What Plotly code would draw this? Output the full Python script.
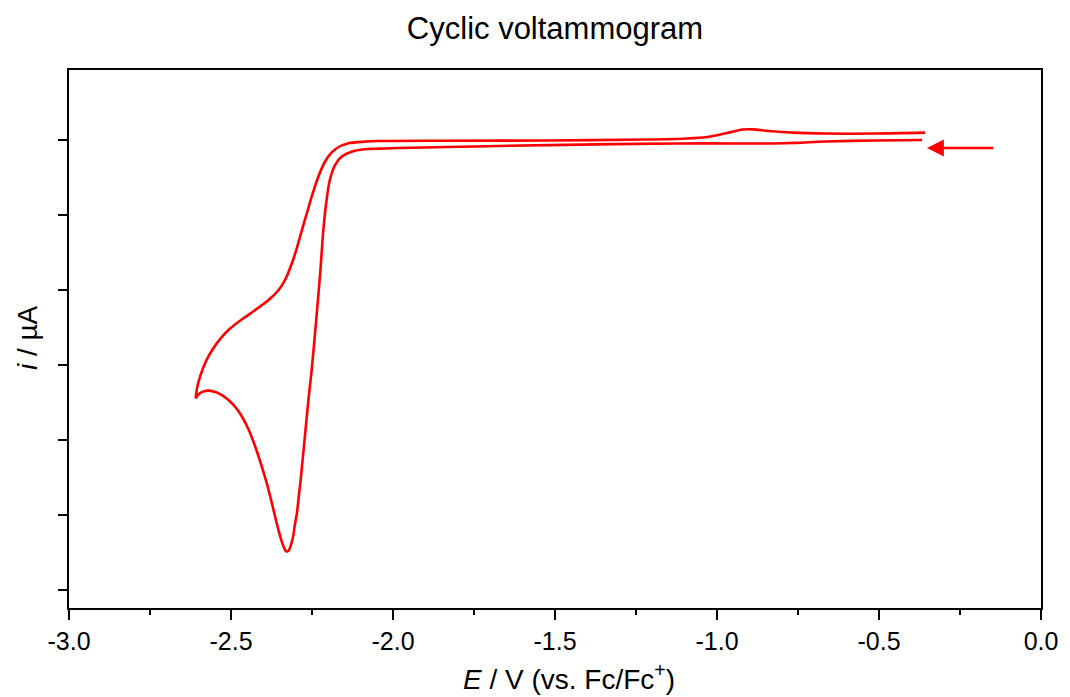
import plotly.graph_objects as go

# Cathodic sweep: from the starting potential down to the switching potential
E_forward = [-0.367, -0.512, -0.665, -0.757, -0.834, -0.941, -1.126, -1.371, -1.678,
             -1.832, -1.985, -2.046, -2.087, -2.128, -2.159, -2.179, -2.195, -2.205,
             -2.215, -2.224, -2.237, -2.251, -2.260, -2.270, -2.279, -2.285, -2.291,
             -2.296, -2.303, -2.308, -2.315, -2.322, -2.329, -2.336, -2.344, -2.352,
             -2.362, -2.374, -2.389, -2.405, -2.425, -2.445, -2.466, -2.486, -2.507,
             -2.527, -2.548, -2.568, -2.583, -2.599, -2.609]
i_forward = [0.0, -0.03, -0.10, -0.19, -0.23, -0.23, -0.23, -0.29, -0.40,
             -0.47, -0.53, -0.58, -0.62, -0.78, -1.11, -1.67, -2.67, -4.0,
             -6.0, -8.67, -12.0, -15.33, -17.11, -19.33, -21.33, -22.67, -23.8,
             -24.8, -25.67, -26.4, -27.0, -27.37, -27.43, -27.2, -26.73, -26.13,
             -25.27, -24.2, -22.93, -21.77, -20.45, -19.33, -18.45, -17.82, -17.35,
             -17.02, -16.80, -16.71, -16.75, -16.93, -17.22]

# Anodic sweep: back from the switching potential
E_reverse = [-2.609, -2.604, -2.594, -2.578, -2.558, -2.532, -2.502, -2.466, -2.425,
             -2.384, -2.353, -2.333, -2.312, -2.297, -2.282, -2.266, -2.251, -2.236,
             -2.220, -2.200, -2.174, -2.138, -2.087, -2.046, -1.832, -1.525, -1.218,
             -1.095, -1.024, -0.972, -0.921, -0.890, -0.840, -0.767, -0.665, -0.512,
             -0.358]
i_reverse = [-17.22, -16.45, -15.67, -14.78, -14.0, -13.22, -12.55, -11.95, -11.33,
             -10.67, -10.0, -9.33, -8.22, -7.22, -6.07, -4.89, -3.78, -2.78,
             -1.89, -1.11, -0.55, -0.22, -0.11, -0.07, -0.05, -0.03, 0.03,
             0.10, 0.22, 0.45, 0.70, 0.71, 0.60, 0.49, 0.43, 0.43,
             0.49]

x_ticks = [-3.0, -2.5, -2.0, -1.5, -1.0, -0.5, 0.0]
x_tick_text = ["-3.0", "-2.5", "-2.0", "-1.5", "-1.0", "-0.5", "0.0"]
y_ticks = [0, -5, -10, -15, -20, -25, -30]

# Scan direction arrow (tail, head) and its current level
arrow_E = [-0.143, -0.352]
arrow_i = -0.53

RED = "#ff0000"
FONT = "Liberation Sans, Arial, sans-serif"

fig = go.Figure()
for E, i in ((E_forward, i_forward), (E_reverse, i_reverse)):
    fig.add_trace(go.Scatter(x=E, y=i, mode="lines",
                             line=dict(color=RED, width=2.6, shape="spline", smoothing=0.8),
                             showlegend=False, hoverinfo="skip"))

fig.add_annotation(x=arrow_E[1], y=arrow_i, ax=arrow_E[0], ay=arrow_i,
                   xref="x", yref="y", axref="x", ayref="y",
                   text="", showarrow=True, arrowhead=2, arrowsize=1.3,
                   arrowwidth=2.6, arrowcolor=RED)

# Axis titles
fig.add_annotation(text="<i>E</i> / V (vs. Fc/Fc<sup>+</sup>)", xref="paper", yref="paper",
                   x=0.514, y=-0.128, xanchor="center", yanchor="middle",
                   showarrow=False, font=dict(family=FONT, size=28, color="black"))
fig.add_annotation(text="<i>i</i> / µA", xref="paper", yref="paper",
                   x=-0.042, y=0.502, xanchor="center", yanchor="middle", textangle=-90,
                   showarrow=False, font=dict(family=FONT, size=28, color="black"))

fig.update_layout(
    width=1070, height=697,
    margin=dict(l=69, r=23, t=70, b=89),
    paper_bgcolor="white", plot_bgcolor="white",
    font=dict(family=FONT, color="black"),
    title=dict(text="Cyclic voltammogram", x=0.5, xref="paper", xanchor="center",
               y=1 - 28 / 697, yref="container", yanchor="middle",
               font=dict(family=FONT, size=31, color="black")),
)

fig.update_xaxes(range=[-3.0, 0.0], tickvals=x_ticks, ticktext=x_tick_text,
                 showline=True, linecolor="black", linewidth=2, mirror=True,
                 ticks="outside", ticklen=10, tickwidth=2, tickcolor="black",
                 minor=dict(dtick=0.25, tick0=0, ticks="outside", ticklen=5,
                            tickwidth=2, tickcolor="black"),
                 showgrid=False, zeroline=False,
                 tickfont=dict(family=FONT, size=25, color="black"))
fig.update_yaxes(range=[-31.2, 4.667], tickvals=y_ticks, showticklabels=False,
                 showline=True, linecolor="black", linewidth=2, mirror=True,
                 ticks="outside", ticklen=9, tickwidth=2, tickcolor="black",
                 showgrid=False, zeroline=False)

fig.write_html("out.html")
